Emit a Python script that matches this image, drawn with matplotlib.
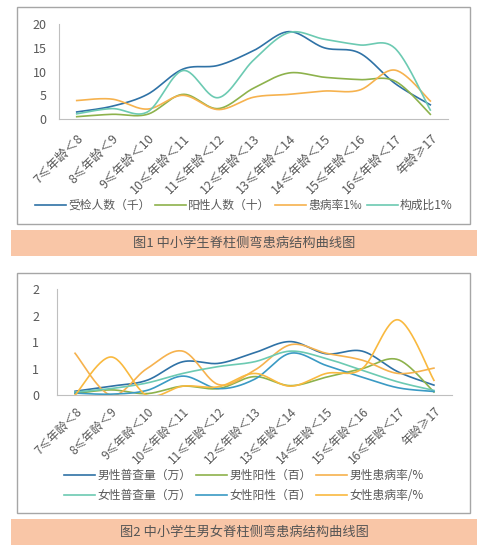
import numpy as np
import matplotlib
matplotlib.use("Agg")
import matplotlib.pyplot as plt
from matplotlib.patches import Rectangle

plt.rcParams['font.family'] = ['Noto Sans CJK SC', 'DejaVu Sans']

# age groups
ages = ["7≤年龄＜8", "8≤年龄＜9", "9≤年龄＜10", "10≤年龄＜11", "11≤年龄＜12", "12≤年龄＜13",
        "13≤年龄＜14", "14≤年龄＜15", "15≤年龄＜16", "16≤年龄＜17", "年龄≥17"]

# figure 1
checked = [1.5, 2.7, 5.2, 10.5, 11.3, 14.4, 18.4, 15.0, 13.9, 7.5, 3.0]
positive = [0.5, 1.0, 1.0, 5.2, 2.2, 6.5, 9.7, 8.8, 8.3, 8.0, 1.0]
rate = [3.9, 4.2, 2.1, 5.0, 2.0, 4.6, 5.2, 5.9, 6.1, 10.3, 3.8]
share = [1.1, 2.2, 1.5, 10.2, 4.5, 12.4, 18.2, 16.8, 15.6, 14.9, 1.9]

# figure 2
male_total = [0.075, 0.17, 0.28, 0.63, 0.6, 0.8, 1.01, 0.78, 0.83, 0.44, 0.19]
male_pos = [0.03, 0.1, 0.03, 0.17, 0.125, 0.35, 0.18, 0.34, 0.5, 0.67, 0.06]
male_rate = [0.79, 0.0, 0.5, 0.83, 0.2, 0.47, 0.95, 0.79, 0.66, 0.41, 0.51]
female_total = [0.06, 0.125, 0.23, 0.41, 0.54, 0.63, 0.83, 0.69, 0.47, 0.25, 0.09]
female_pos = [0.04, 0.02, 0.09, 0.36, 0.125, 0.3, 0.79, 0.56, 0.34, 0.14, 0.07]
female_rate = [0.0, 0.72, 0.0, 0.17, 0.16, 0.41, 0.17, 0.41, 0.5, 1.42, 0.28]
fig2_yticks = [0, 0.5, 1.0, 1.5, 2.0]
fig2_yticklabels = ["0", "1", "1", "2", "2"]

DARK_BLUE = "#2f72a6"
GREEN = "#8db24c"
ORANGE = "#f6b24e"
ORANGE2 = "#f9b93f"
TEAL = "#6ccab2"
BLUE = "#3a9ac4"
GRAY = "#595959"


def smooth(y, n=30):
    # excel style smoothed line (catmull-rom)
    y = np.asarray(y, float)
    x = np.arange(len(y), dtype=float)
    px = np.concatenate([[x[0]], x, [x[-1]]])
    py = np.concatenate([[y[0]], y, [y[-1]]])
    xs, ys = [], []
    t = np.linspace(0, 1, n)
    for i in range(1, len(px) - 2):
        for p, out in ((px, xs), (py, ys)):
            p0, p1, p2, p3 = p[i - 1], p[i], p[i + 1], p[i + 2]
            c1 = p1 + (p2 - p0) / 6
            c2 = p2 - (p3 - p1) / 6
            out.append((1 - t) ** 3 * p1 + 3 * (1 - t) ** 2 * t * c1 + 3 * (1 - t) * t ** 2 * c2 + t ** 3 * p2)
    return np.concatenate(xs), np.concatenate(ys)


def style_axes(ax, ypad, xfont, xpad):
    for s in ["top", "right"]:
        ax.spines[s].set_visible(False)
    ax.spines["left"].set_color("#bfbfbf")
    ax.spines["bottom"].set_color("#bfbfbf")
    ax.tick_params(length=0, colors=GRAY, labelsize=9)
    ax.tick_params(axis="y", pad=ypad)
    ax.set_xlim(-0.5, len(ages) - 0.5)
    ax.set_xticks(range(len(ages)))
    ax.set_xticklabels(ages, rotation=45, ha="right", va="top", rotation_mode="anchor", fontsize=xfont, color=GRAY)
    ax.tick_params(axis="x", pad=xpad)


fig = plt.figure(figsize=(4.88, 5.59), dpi=100)

# panel borders and caption bands
for y0, h in [(0.599, 0.389), (0.082, 0.43)]:
    fig.patches.append(Rectangle((0.035, y0), 0.928, h, transform=fig.transFigure,
                                 fill=False, edgecolor="#a6a6a6", lw=1.0))
for y0, txt in [(0.542, "图1 中小学生脊柱侧弯患病结构曲线图"), (0.025, "图2 中小学生男女脊柱侧弯患病结构曲线图")]:
    fig.patches.append(Rectangle((0.0225, y0), 0.955, 0.0465, transform=fig.transFigure,
                                 facecolor="#f9c6a7", edgecolor="none"))
    fig.text(0.5, y0 + 0.0232, txt, ha="center", va="center", fontsize=9.5, color="#555555")

# figure 1
ax1 = fig.add_axes([0.121, 0.787, 0.797, 0.170])
for vals, c, lab in [(checked, DARK_BLUE, "受检人数（千）"), (positive, GREEN, "阳性人数（十）"),
                     (rate, ORANGE, "患病率1‰"), (share, TEAL, "构成比1%")]:
    xs, ys = smooth(vals)
    ax1.plot(xs, ys, color=c, lw=1.2, label=lab)
ax1.set_ylim(0, 20)
ax1.set_yticks([0, 5, 10, 15, 20])
style_axes(ax1, 9, 9, 9)
ax1.legend(loc="center", bbox_to_anchor=(0.5, 0.633), bbox_transform=fig.transFigure, ncol=4,
           frameon=False, fontsize=8.5, handlelength=2.6, handletextpad=0.2, columnspacing=0.4,
           labelcolor=GRAY)

# figure 2
ax2 = fig.add_axes([0.117, 0.293, 0.809, 0.19])
lines = {}
for vals, c, lab in [(male_total, DARK_BLUE, "男性普查量（万）"), (male_pos, GREEN, "男性阳性（百）"),
                     (male_rate, ORANGE, "男性患病率/%"), (female_total, TEAL, "女性普查量（万）"),
                     (female_pos, BLUE, "女性阳性（百）"), (female_rate, ORANGE2, "女性患病率/%")]:
    xs, ys = smooth(vals)
    lines[lab], = ax2.plot(xs, ys, color=c, lw=1.2, label=lab)
ax2.set_ylim(0, 2)
ax2.set_yticks(fig2_yticks)
ax2.set_yticklabels(fig2_yticklabels)
style_axes(ax2, 13, 8.6, 7)
order = ["男性普查量（万）", "女性普查量（万）", "男性阳性（百）", "女性阳性（百）", "男性患病率/%", "女性患病率/%"]
ax2.legend([lines[k] for k in order], order, loc="center", bbox_to_anchor=(0.5, 0.131),
           bbox_transform=fig.transFigure, ncol=3, frameon=False, fontsize=8.5, handlelength=2.6,
           handletextpad=0.2, columnspacing=0.4, labelspacing=0.6, labelcolor=GRAY)

fig.savefig("out.png", dpi=100)
